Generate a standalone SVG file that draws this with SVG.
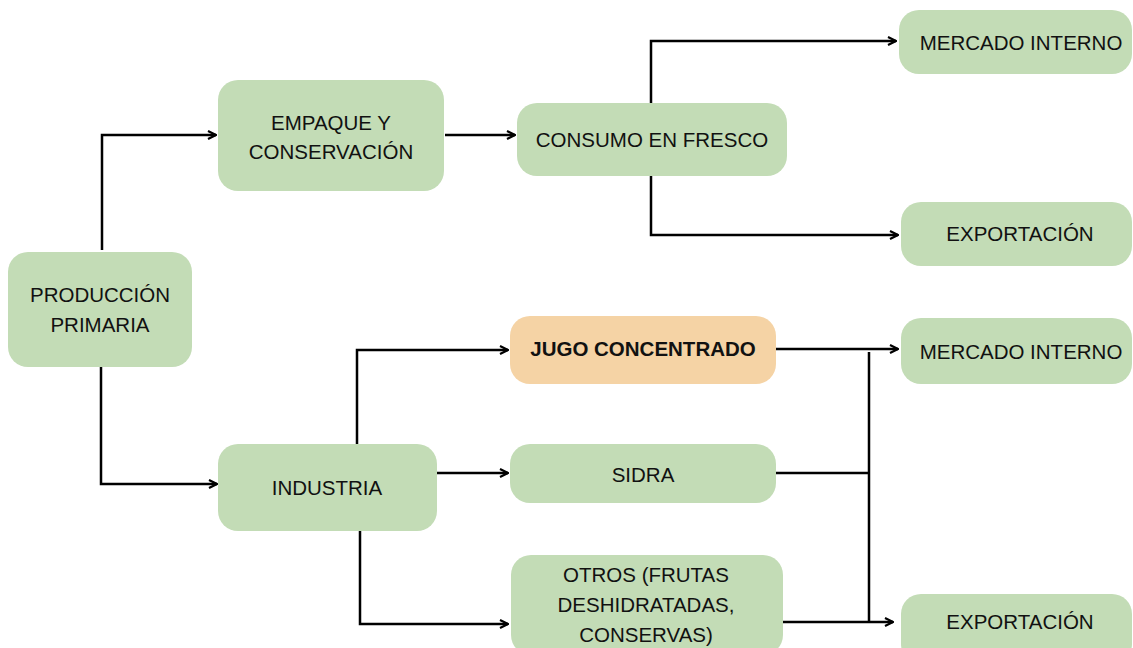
<svg xmlns="http://www.w3.org/2000/svg" width="1133" height="648" viewBox="0 0 1133 648">
<defs>
<marker id="arr" viewBox="0 0 10 10" refX="9" refY="5" markerWidth="10" markerHeight="10" markerUnits="userSpaceOnUse" orient="auto">
<path d="M1,1 L9,5 L1,9" fill="none" stroke="#000" stroke-width="2.2" stroke-linejoin="miter"/>
</marker>
<style>
.box{fill:#c3dcb6}
.hl{fill:#f5d3a5}
text{font-family:"Liberation Sans",Arial,sans-serif;font-size:20.5px;fill:#111;text-anchor:middle}
.b{font-weight:bold}
.c{fill:none;stroke:#000;stroke-width:2.5}
.a{marker-end:url(#arr)}
</style>
</defs>
<rect width="1133" height="648" fill="#fff"/>
<g id="connectors">
<path class="c a" d="M102,250 V135 H216"/>
<path class="c a" d="M445,135 H515"/>
<path class="c a" d="M651,103 V41 H896"/>
<path class="c a" d="M651,176 V235 H898"/>
<path class="c a" d="M101,367 V484 H217"/>
<path class="c a" d="M357,444 V350 H508"/>
<path class="c a" d="M437,473 H508"/>
<path class="c a" d="M360,531 V624 H508"/>
<path class="c a" d="M776,349 H898"/>
<path class="c" d="M869,352 V622"/>
<path class="c" d="M776,473 H869"/>
<path class="c a" d="M783,622 H893"/>
</g>
<g id="produccion"><rect class="box" x="8" y="252" width="184" height="115" rx="20"/><text x="100" y="302">PRODUCCIÓN</text><text x="100" y="332">PRIMARIA</text></g>
<g id="empaque"><rect class="box" x="218" y="80" width="226" height="111" rx="20"/><text x="331" y="130">EMPAQUE Y</text><text x="331" y="159">CONSERVACIÓN</text></g>
<g id="consumo"><rect class="box" x="517" y="103" width="270" height="73" rx="20"/><text x="652" y="147">CONSUMO EN FRESCO</text></g>
<g id="mercado1"><rect class="box" x="899" y="10" width="233" height="64" rx="20"/><text x="1021" y="50">MERCADO INTERNO</text></g>
<g id="exportacion1"><rect class="box" x="901" y="202" width="231" height="64" rx="20"/><text x="1020" y="241">EXPORTACIÓN</text></g>
<g id="jugo"><rect class="hl" x="510" y="316" width="266" height="68" rx="20"/><text class="b" x="643" y="356">JUGO CONCENTRADO</text></g>
<g id="mercado2"><rect class="box" x="901" y="318" width="231" height="66" rx="20"/><text x="1021" y="359">MERCADO INTERNO</text></g>
<g id="industria"><rect class="box" x="218" y="444" width="219" height="87" rx="20"/><text x="327" y="495">INDUSTRIA</text></g>
<g id="sidra"><rect class="box" x="510" y="444" width="266" height="59" rx="20"/><text x="643" y="482">SIDRA</text></g>
<g id="otros"><rect class="box" x="511" y="555" width="272" height="100" rx="20"/><text x="646" y="582">OTROS (FRUTAS</text><text x="646" y="612">DESHIDRATADAS,</text><text x="646" y="642">CONSERVAS)</text></g>
<g id="exportacion2"><rect class="box" x="901" y="594" width="231" height="70" rx="20"/><text x="1020" y="629">EXPORTACIÓN</text></g>
</svg>
